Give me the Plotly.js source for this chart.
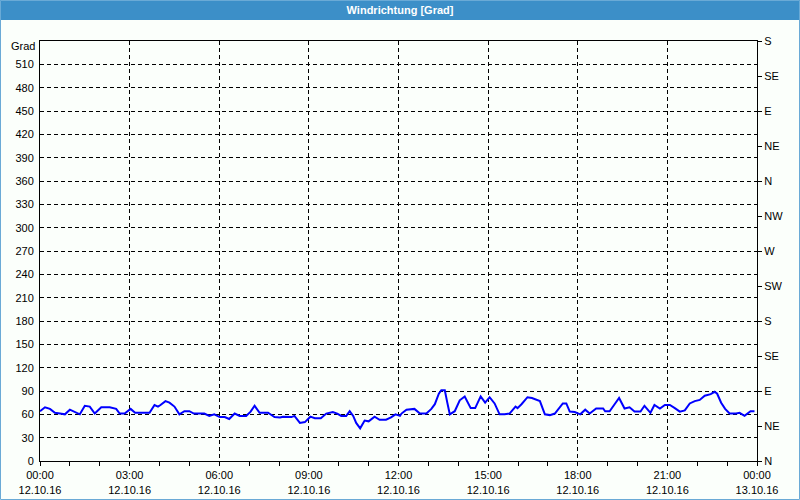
<!DOCTYPE html>
<html>
<head>
<meta charset="utf-8">
<script src="https://cdn.plot.ly/plotly-3.0.1.min.js"></script>
<style>
html,body{margin:0;padding:0;background:#fbfffb;}
#chart{width:800px;height:500px;}
</style>
</head>
<body>
<div id="chart"></div>
<script>
const day = "2016-10-12";
const times = ["00:00","00:10","00:20","00:30","00:40","00:50","01:00","01:10","01:20","01:30","01:40","01:50","02:03","02:20","02:33","02:40","02:50","03:02","03:11","03:23","03:40","03:50","03:57","04:02","04:12","04:20","04:30","04:40","04:50","05:00","05:09","05:30","05:40","05:50","06:01","06:11","06:20","06:31","06:41","06:54","07:03","07:11","07:21","07:38","07:51","08:02","08:08","08:25","08:31","08:42","08:52","09:03","09:12","09:24","09:35","09:48","09:57","10:05","10:15","10:22","10:29","10:35","10:43","10:52","11:00","11:12","11:22","11:35","11:45","11:54","12:03","12:06","12:16","12:32","12:43","12:56","13:06","13:13","13:21","13:26","13:33","13:38","13:43","13:53","14:03","14:13","14:25","14:34","14:45","14:54","15:03","15:13","15:23","15:33","15:43","15:55","15:59","16:07","16:19","16:28","16:44","16:54","17:04","17:14","17:30","17:37","17:44","17:54","18:05","18:15","18:24","18:37","18:51","18:55","19:04","19:14","19:23","19:34","19:44","19:54","20:06","20:14","20:26","20:34","20:45","20:55","21:05","21:15","21:25","21:35","21:45","21:55","22:05","22:15","22:27","22:35","22:40","22:48","22:56","23:05","23:18","23:25","23:35","23:47","23:55"];
const direction = [64,69,67,62,61,60,66,63,60,71,70,61,69,69,67,61,61,67,62,62,62,72,70,72,77,75,70,60,64,64,61,61,58,60,56.5,56.5,54,61,58,58,63.5,71,62,62,56.5,56,57,56.5,58,49,50,57,55,55,61,63,61,58,58,64,58,49,42,52,51,57,53,53,56,60,58,61,66,67,61,61,67,73,86.5,91,91,75,60,64,78,83,68,68,83,75,82,74,60,60,61,70,68,73,82,81,77,60,59,61,74,74,63.5,63,60,66,61,67.5,67.5,64,64,73,81,67.5,69,63.5,63.5,71,62,72,67.5,72,72,68,63.5,65,74,77,78.5,84,86,89,86.5,75,67,61,61,62,58,64,64];

const xTickVals = ["2016-10-12 00:00","2016-10-12 03:00","2016-10-12 06:00","2016-10-12 09:00","2016-10-12 12:00","2016-10-12 15:00","2016-10-12 18:00","2016-10-12 21:00","2016-10-13 00:00"];
const xTickText = ["00:00<br>12.10.16","03:00<br>12.10.16","06:00<br>12.10.16","09:00<br>12.10.16","12:00<br>12.10.16","15:00<br>12.10.16","18:00<br>12.10.16","21:00<br>12.10.16","00:00<br>13.10.16"];
const leftTicks = [0,30,60,90,120,150,180,210,240,270,300,330,360,390,420,450,480,510];
const rightTickVals = [0,45,90,135,180,225,270,315,360,405,450,495,540];
const rightTickText = ["N","NE","E","SE","S","SW","W","NW","N","NE","E","SE","S"];

const font = {family: "Liberation Sans, Arial, sans-serif", size: 11, color: "#000"};
const L = 40, R = 43, T = 41, B = 39, W = 800 - L - R, H = 500 - T - B;

const trace = {
  x: times.map(t => day + " " + t),
  y: direction,
  type: "scatter",
  mode: "lines",
  line: {color: "#0000ff", width: 2},
  hoverinfo: "x+y"
};

const layout = {
  width: 800, height: 500,
  margin: {l: L, r: R, t: T, b: B, autoexpand: false},
  paper_bgcolor: "#fbfffb",
  plot_bgcolor: "#fbfffb",
  font: font,
  showlegend: false,
  title: {
    text: "<b>Windrichtung [Grad]</b>",
    font: {family: "Liberation Sans, Arial, sans-serif", size: 11, color: "#ffffff"},
    x: 0.5, xanchor: "center", y: 1 - 10.5/500, yanchor: "middle", yref: "container"
  },
  xaxis: {
    type: "date",
    range: ["2016-10-12 00:00", "2016-10-13 00:00"],
    tickmode: "array", tickvals: xTickVals, ticktext: xTickText,
    ticks: "outside", ticklen: 4, tickcolor: "#000", tickwidth: 1,
    minor: {dtick: 3600000, ticks: "outside", ticklen: 4, tickcolor: "#000", showgrid: false},
    showgrid: true, gridcolor: "#000", gridwidth: 1, griddash: "4px,3px",
    showline: true, linecolor: "#000", linewidth: 1, mirror: true,
    zeroline: false, tickfont: font, fixedrange: true
  },
  yaxis: {
    range: [0, 540],
    tickmode: "array", tickvals: leftTicks,
    ticks: "", ticklabelstandoff: 3,
    showgrid: true, gridcolor: "#000", gridwidth: 1, griddash: "4px,3px",
    showline: true, linecolor: "#000", linewidth: 1, mirror: true,
    zeroline: false, tickfont: font, fixedrange: true
  },
  yaxis2: {
    range: [0, 540], overlaying: "y", side: "right",
    tickmode: "array", tickvals: rightTickVals, ticktext: rightTickText,
    ticks: "outside", ticklen: 4, tickcolor: "#000",
    showgrid: false, showline: true, linecolor: "#000", linewidth: 1,
    zeroline: false, tickfont: font, fixedrange: true, ticklabelstandoff: 0
  },
  shapes: [
    {type: "rect", xref: "paper", yref: "paper", layer: "below",
     x0: -L/W, x1: 1 + R/W, y0: 1 + (T-20)/H, y1: 1 + T/H,
     fillcolor: "#3c8fc8", line: {width: 0}},
    {type: "rect", xref: "paper", yref: "paper", layer: "above",
     x0: -(L-0.5)/W, x1: 1 + (R-0.5)/W, y0: -(B-0.5)/H, y1: 1 + (T-0.5)/H,
     fillcolor: "rgba(0,0,0,0)", line: {color: "#6aaad6", width: 1}}
  ],
  annotations: [
    {text: "Grad", xref: "paper", yref: "paper", x: -3/W, y: (461-46)/H - (0)/H,
     xanchor: "right", yanchor: "middle", showarrow: false, font: font}
  ]
};

const trace2 = {x: [], y: [], yaxis: "y2", type: "scatter", mode: "lines", hoverinfo: "skip"};

Plotly.newPlot("chart", [trace, trace2], layout, {displayModeBar: false, staticPlot: true});
</script>
</body>
</html>
